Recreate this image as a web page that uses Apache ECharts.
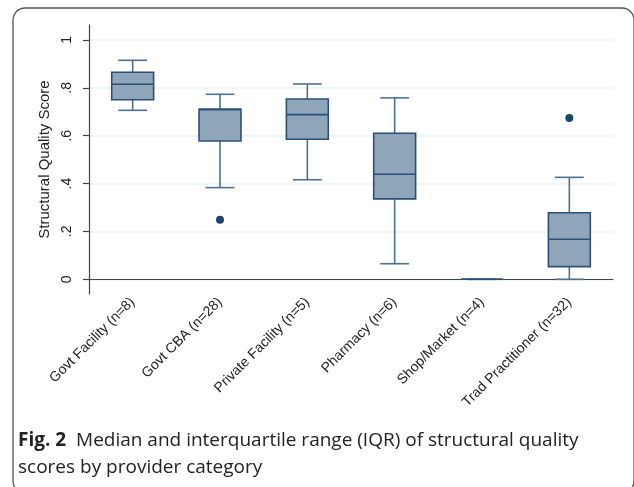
<!DOCTYPE html>
<html>
<head>
<meta charset="utf-8">
<script src="https://cdn.jsdelivr.net/npm/echarts@6/dist/echarts.min.js"></script>
<style>
html,body{margin:0;padding:0;background:#fff;}
#chart{width:634px;height:487px;}
</style>
</head>
<body>
<div id="chart"></div>
<script>
const categories = ['Govt Facility (n=8)', 'Govt CBA (n=28)', 'Private Facility (n=5)', 'Pharmacy (n=6)', 'Shop/Market (n=4)', 'Trad Practitioner (n=32)'];
const whiskerLow  = [0.706, 0.383, 0.416, 0.065, 0, 0];
const quartile1   = [0.750, 0.578, 0.585, 0.336, 0, 0.053];
const medians     = [0.815, 0.710, 0.688, 0.439, 0, 0.167];
const quartile3   = [0.865, 0.710, 0.753, 0.610, 0, 0.278];
const whiskerHigh = [0.915, 0.773, 0.816, 0.758, 0, 0.426];
const outliers    = [[1, 0.249], [5, 0.674]];
const yTicks = [0, 0.2, 0.4, 0.6, 0.8, 1];

const boxData = categories.map((c, i) => [i, whiskerLow[i], quartile1[i], medians[i], quartile3[i], whiskerHigh[i]]);

const chart = echarts.init(document.getElementById('chart'));

function renderBox(params, api) {
  const i = api.value(0);
  const band = api.size([1, 0])[0];
  const bw = band * 0.48;
  const cw = band * 0.33;
  const pLow = api.coord([i, api.value(1)]);
  const pQ1 = api.coord([i, api.value(2)]);
  const pMed = api.coord([i, api.value(3)]);
  const pQ3 = api.coord([i, api.value(4)]);
  const pHigh = api.coord([i, api.value(5)]);
  const x = pQ1[0];
  const whiskerStyle = { stroke: '#4d7195', lineWidth: 1.6 };
  const boxStyle = { fill: '#8fa5ba', stroke: '#2b5078', lineWidth: 1.6 };
  return {
    type: 'group',
    children: [
      { type: 'line', shape: { x1: x, y1: pQ3[1], x2: x, y2: pHigh[1] }, style: whiskerStyle },
      { type: 'line', shape: { x1: x, y1: pQ1[1], x2: x, y2: pLow[1] }, style: whiskerStyle },
      { type: 'line', shape: { x1: x - cw / 2, y1: pHigh[1], x2: x + cw / 2, y2: pHigh[1] }, style: whiskerStyle },
      { type: 'line', shape: { x1: x - cw / 2, y1: pLow[1], x2: x + cw / 2, y2: pLow[1] }, style: whiskerStyle },
      { type: 'rect', shape: { x: x - bw / 2, y: pQ3[1], width: bw, height: pQ1[1] - pQ3[1] }, style: boxStyle },
      { type: 'line', shape: { x1: x - bw / 2, y1: pMed[1], x2: x + bw / 2, y2: pMed[1] }, style: { stroke: '#2b5078', lineWidth: 1.6 } }
    ]
  };
}

const option = {
  backgroundColor: '#ffffff',
  animation: false,
  textStyle: { fontFamily: 'Liberation Sans, Arial, sans-serif' },
  grid: { left: 89, right: 21, top: 25, bottom: 193, containLabel: false },
  xAxis: {
    type: 'category',
    data: categories,
    boundaryGap: true,
    axisLine: { show: true, lineStyle: { color: '#444', width: 1.2 } },
    axisTick: { show: false },
    axisLabel: { rotate: 45, fontSize: 14, color: '#222', margin: 6, interval: 0 },
    splitLine: { show: false }
  },
  yAxis: {
    type: 'value',
    min: -0.0615,
    max: 1.0625,
    name: 'Structural Quality Score',
    nameLocation: 'middle',
    nameRotate: 90,
    nameGap: 37,
    nameTextStyle: { fontSize: 15, color: '#222' },
    axisLine: { show: true, lineStyle: { color: '#444', width: 1.2 } },
    axisTick: { show: true, inside: false, length: 6, customValues: yTicks, lineStyle: { color: '#444', width: 1.2 } },
    axisLabel: {
      customValues: yTicks,
      rotate: 90,
      fontSize: 14,
      color: '#222',
      margin: 15,
      formatter: function (v) {
        const r = Math.round(Number(v) * 10) / 10;
        if (r === 0) return '0';
        if (r === 1) return '1';
        return '.' + Math.round(r * 10);
      }
    },
    splitLine: { show: true, lineStyle: { color: '#eaf1f1', width: 1.5 } }
  },
  series: [
    {
      type: 'custom',
      renderItem: renderBox,
      data: boxData,
      encode: { x: 0, y: [1, 2, 3, 4, 5] },
      z: 3
    },
    {
      type: 'scatter',
      data: outliers,
      symbol: 'circle',
      symbolSize: 8,
      itemStyle: { color: '#1a4570', opacity: 1 },
      z: 4
    }
  ],
  graphic: [
    {
      type: 'rect',
      shape: { x: 13, y: 8, width: 621, height: 485, r: 12 },
      style: { fill: null, stroke: '#555', lineWidth: 1.3 },
      silent: true,
      z: 10
    },
    {
      type: 'text',
      left: 18,
      top: 427,
      style: {
        text: '{b|Fig. 2}  Median and interquartile range (IQR) of structural quality\nscores by provider category',
        font: '19px "Open Sans", "Noto Sans", sans-serif',
        fill: '#222',
        lineHeight: 27,
        rich: {
          b: { font: 'bold 19px "Open Sans", "Noto Sans", sans-serif', fill: '#222', lineHeight: 27 }
        }
      },
      z: 10
    }
  ]
};
chart.setOption(option);
</script>
</body>
</html>
